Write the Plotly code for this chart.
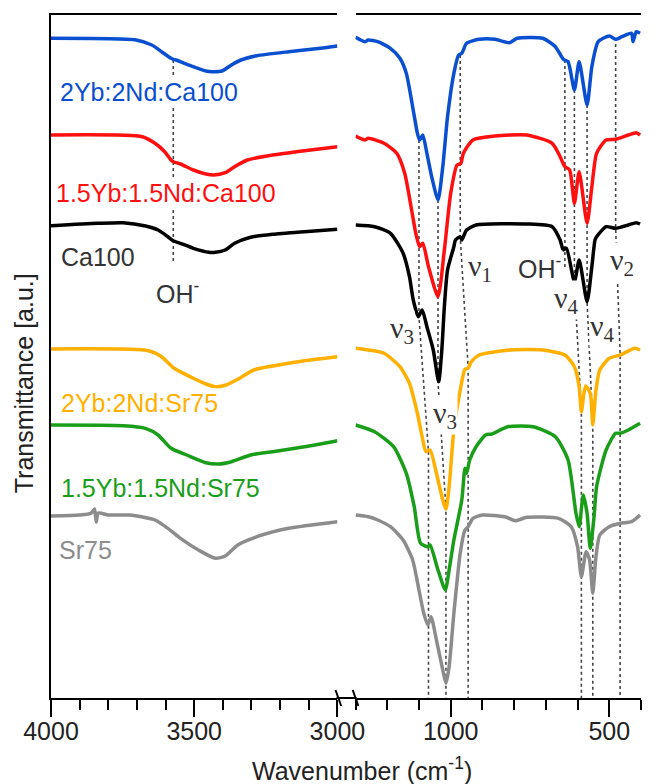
import plotly.graph_objects as go

# ---------------- data (wavenumber cm-1, transmittance a.u. with offsets) -------------
NAMES = ["2Yb:2Nd:Ca100", "1.5Yb:1.5Nd:Ca100", "Ca100",
         "2Yb:2Nd:Sr75", "1.5Yb:1.5Nd:Sr75", "Sr75"]
COLORS = ["#0a4fcf", "#ff1010", "#000000", "#ffb000", "#1a9e1a", "#8c8c8c"]
LABEL_COLORS = ["#0a4fcf", "#ff1010", "#333333", "#ffb000", "#1a9e1a", "#8c8c8c"]

# high-wavenumber region (4000-3000)
CA2_L_WN = [4000, 3703, 3648, 3614, 3581, 3573, 3564, 3503, 3459, 3437, 3403, 3370, 3337, 3281, 3170, 3059, 3000]
CA2_L_T = [659.7, 658, 653, 646.3, 639.7, 638.7, 638, 631.3, 627, 626.3, 627, 633, 638, 642.3, 646.3, 649.7, 652]
CA15_L_WN = [4000, 3681, 3637, 3603, 3581, 3573, 3548, 3503, 3459, 3431, 3392, 3359, 3314, 3226, 3115, 3000]
CA15_L_T = [563, 561.3, 554.7, 546.3, 538, 536.3, 534, 528, 524, 523, 525.3, 531.3, 538, 543, 547.3, 551.3]
CA_L_WN = [4000, 3837, 3748, 3670, 3626, 3592, 3573, 3548, 3503, 3448, 3426, 3392, 3359, 3303, 3226, 3115, 3000]
CA_L_T = [472.3, 474.7, 475.3, 472, 468, 461.3, 457.3, 454.7, 449.7, 445.7, 445.7, 448, 454.7, 460.7, 463.7, 466.3, 468.7]
SR2_L_WN = [4000, 3659, 3614, 3570, 3503, 3459, 3426, 3392, 3348, 3292, 3226, 3115, 3000]
SR2_L_T = [349, 347.3, 341.3, 329.7, 319.7, 314, 311.3, 312.7, 318.7, 328, 332, 337.3, 341.3]
SR15_L_WN = [4000, 3748, 3670, 3626, 3581, 3526, 3459, 3414, 3370, 3303, 3226, 3115, 3000]
SR15_L_T = [273, 272.3, 269.7, 263, 249.7, 243, 235.3, 234, 236.3, 243, 246.3, 251.3, 257.3]
SR_L_WN = [4000, 3900, 3860, 3848, 3842, 3835, 3800, 3726, 3680, 3637, 3592, 3548, 3481, 3426, 3392, 3348, 3281, 3170, 3000]
SR_L_T = [182, 183, 184.7, 189, 176, 185, 183, 183, 181, 178, 169.7, 159.7, 147.3, 139.7, 142, 153, 161.3, 169.7, 176.3]

# fingerprint region (1300-400)
CA2_R_WN = [1300, 1270, 1260, 1230, 1190, 1160, 1140, 1120, 1105, 1098, 1088, 1075, 1060, 1040, 1025, 1010, 990, 975, 965, 950,
            910, 860, 815, 790, 710, 670, 645, 630, 610, 595, 570, 555, 535, 500, 480, 460, 430, 425, 415, 403]
CA2_R_T = [660.7, 656.3, 658, 656.3, 649.7, 639.7, 624.7, 591.3, 564.7, 558, 563, 544.7, 521.3, 498, 531.3, 581.3, 624.7, 643, 644.7, 654.7,
           658.7, 658.7, 655.3, 659.7, 659.7, 651.3, 638.7, 636.3, 608, 636.3, 593, 631.3, 656.3, 662, 658.7, 661.3, 664.7, 656.3, 666.3, 664.7]
CA15_R_WN = [1300, 1270, 1260, 1210, 1170, 1145, 1125, 1110, 1098, 1088, 1070, 1040, 1020, 1000, 980, 968, 960, 930, 860, 760,
             680, 655, 640, 625, 610, 595, 570, 555, 540, 510, 480, 440, 415, 403]
CA15_R_T = [562, 558, 559.7, 554.7, 544.7, 524.7, 491.3, 464.7, 451.3, 454.7, 431.3, 401.3, 448, 504.7, 533, 534.7, 544.7, 558, 562, 563,
            554.7, 541.3, 531.3, 528, 494.7, 526.3, 474.7, 511.3, 544.7, 558, 558.7, 563, 565.3, 563]
CA_R_WN = [1300, 1240, 1190, 1150, 1130, 1118, 1102, 1090, 1075, 1055, 1038, 1028, 1020, 1010, 990, 985, 970, 965, 950, 920,
           760, 680, 655, 645, 635, 610, 595, 570, 555, 545, 540, 510, 480, 440, 415, 403]
CA_R_T = [473, 471.3, 464.7, 444.7, 421.3, 398, 381.3, 388, 371.3, 348, 316.3, 348, 391.3, 428, 451.3, 458, 461.3, 458, 468, 473,
          474, 471.3, 458, 448, 449.7, 416.3, 438, 396.3, 431.3, 458, 461.3, 471.3, 469.7, 473, 475.3, 474]
SR2_R_WN = [1300, 1260, 1210, 1160, 1130, 1105, 1090, 1078, 1065, 1045, 1025, 1015, 1005, 990, 970, 955, 945, 935, 910, 810,
            710, 640, 610, 595, 588, 575, 560, 552, 542, 530, 500, 465, 420, 403]
SR2_R_T = [349.7, 348, 344.7, 331.3, 314.7, 284.7, 261.3, 246.3, 248, 224.7, 198, 188.7, 211.3, 268, 308, 328.7, 329.7, 336.3, 343, 348,
           348, 343, 331.3, 311.3, 286.3, 312, 304.7, 273, 308, 328, 339.7, 343, 349.7, 348]
SR15_R_WN = [1300, 1240, 1180, 1140, 1115, 1095, 1072, 1065, 1040, 1017, 1005, 990, 965, 955, 950, 940, 920, 890, 870, 820,
             740, 670, 630, 605, 595, 582, 570, 560, 548, 540, 510, 480, 465, 440, 403]
SR15_R_T = [273, 266.3, 251.3, 224.7, 191.3, 154.7, 151.3, 153, 128, 108, 128, 158, 198, 229.7, 224.7, 238, 251.3, 263, 264, 271.3,
            271.3, 261.3, 238, 184.7, 171.3, 203, 184.7, 149.7, 181.3, 211.3, 248, 264.7, 264.7, 268, 274.7]
SR_R_WN = [1300, 1260, 1230, 1190, 1150, 1120, 1100, 1085, 1072, 1062, 1045, 1025, 1015, 1005, 990, 970, 955, 945, 930, 900,
           830, 795, 760, 660, 620, 600, 588, 573, 562, 552, 542, 530, 500, 465, 430, 403]
SR_R_T = [183, 181.3, 178, 171.3, 158, 138, 108, 84.7, 73, 81.3, 58, 28, 14.7, 31.3, 84.7, 144.7, 168, 171.3, 179.7, 183,
          181.3, 177.3, 180.7, 179.7, 171.3, 151.3, 121.3, 146.3, 138, 104.7, 141.3, 163, 171.3, 174.7, 176.3, 183]

LEFT_WN = [CA2_L_WN, CA15_L_WN, CA_L_WN, SR2_L_WN, SR15_L_WN, SR_L_WN]
LEFT_T = [CA2_L_T, CA15_L_T, CA_L_T, SR2_L_T, SR15_L_T, SR_L_T]
RIGHT_WN = [CA2_R_WN, CA15_R_WN, CA_R_WN, SR2_R_WN, SR15_R_WN, SR_R_WN]
RIGHT_T = [CA2_R_T, CA15_R_T, CA_R_T, SR2_R_T, SR15_R_T, SR_R_T]

# band guide lines: Ca-phase position, Sr-phase position, y top, y at Ca100, y at 2Yb:2Nd:Sr75
GUIDE_CA_WN = [1100, 1040, 970, 610, 570, 480]
GUIDE_SR_WN = [1070, 1015, 945, 588, 552, 466]
GUIDE_TOP = [558, 498, 643, 608, 593, 660]
GUIDE_CA_T = [381, 316, 461, 416, 396, 470]
GUIDE_SR_T = [246, 189, 330, 286, 273, 346]
OH_LEFT_WN, OH_RIGHT_WN = 3573, 640
OH_LEFT_Y = [638, 435]
OH_RIGHT_Y = [638, 428]

# sample labels (left panel): x wavenumber, y a.u.
LABEL_WN = [3973, 3987, 3970, 3970, 3970, 3977]
LABEL_Y = [606, 505, 441, 295, 210, 148]

# band labels (right panel)
BAND_TEXT = ["ν<sub>1</sub>", "OH<sup>-</sup>", "ν<sub>2</sub>", "ν<sub>4</sub>", "ν<sub>4</sub>", "ν<sub>3</sub>", "ν<sub>3</sub>"]
BAND_WN = [949, 790, 502, 676, 565, 1195, 1060]
BAND_Y = [430, 431, 436, 398, 370, 368, 283]

LEFT_TICKS = [4000, 3500, 3000]
RIGHT_TICKS = [1000, 500]

# ---------------- figure ----------------
W, H = 669, 784
L, R, T, B = 51, 0, 15, 86
PW, PH = W - L - R, H - T - B
FONT = "Liberation Sans, Arial, sans-serif"


def px_x(px):
    return (px - L) / PW


def px_y(py):
    return 1 - (py - T) / PH


fig = go.Figure()

dot = dict(color="#444444", width=1.6, dash="dot")

# guide lines (drawn first, beneath spectra)
gx, gy = [], []
for ca, sr, top, yc, ys in zip(GUIDE_CA_WN, GUIDE_SR_WN, GUIDE_TOP, GUIDE_CA_T, GUIDE_SR_T):
    gx += [ca, ca, sr, sr, None]
    gy += [top, yc, ys, 0, None]
gx += [OH_RIGHT_WN, OH_RIGHT_WN]
gy += OH_RIGHT_Y
fig.add_trace(go.Scatter(x=gx, y=gy, mode="lines", line=dot, xaxis="x2", yaxis="y",
                         showlegend=False, hoverinfo="skip"))
fig.add_trace(go.Scatter(x=[OH_LEFT_WN, OH_LEFT_WN], y=OH_LEFT_Y, mode="lines", line=dot,
                         xaxis="x", yaxis="y", showlegend=False, hoverinfo="skip"))

for name, c, xl, yl, xr, yr in zip(NAMES, COLORS, LEFT_WN, LEFT_T, RIGHT_WN, RIGHT_T):
    fig.add_trace(go.Scatter(x=xl, y=yl, mode="lines", name=name, xaxis="x", yaxis="y",
                             line=dict(color=c, width=3.5, shape="spline", smoothing=0.6),
                             showlegend=False))
    fig.add_trace(go.Scatter(x=xr, y=yr, mode="lines", name=name, xaxis="x2", yaxis="y",
                             line=dict(color=c, width=3.5, shape="spline", smoothing=0.6),
                             showlegend=False))

annotations = []
for name, c, xw, yv in zip(NAMES, LABEL_COLORS, LABEL_WN, LABEL_Y):
    annotations.append(dict(x=xw, y=yv, xref="x", yref="y", text=name, showarrow=False,
                            xanchor="left", yanchor="middle", bgcolor="white", borderpad=0,
                            font=dict(family=FONT, size=25, color=c)))
annotations.append(dict(x=3637, y=406, xref="x", yref="y", text="OH<sup>-</sup>", showarrow=False,
                        xanchor="left", yanchor="middle", bgcolor="white", borderpad=0,
                        font=dict(family=FONT, size=25, color="#333333")))
for txt, xw, yv in zip(BAND_TEXT, BAND_WN, BAND_Y):
    is_nu = txt.startswith("ν")
    annotations.append(dict(x=xw, y=yv, xref="x2", yref="y", text=txt, showarrow=False,
                            xanchor="left", yanchor="middle", bgcolor="white", borderpad=0,
                            font=dict(family="Liberation Serif, serif" if is_nu else FONT,
                                      size=30 if is_nu else 25, color="#333333")))
# axis titles
annotations.append(dict(x=px_x(377), y=px_y(769), xref="paper", yref="paper",
                        text="Wavenumber (cm<sup>-1</sup>)", showarrow=False,
                        xanchor="center", yanchor="middle",
                        font=dict(family=FONT, size=25, color="#222222")))
annotations.append(dict(x=px_x(23), y=px_y(383), xref="paper", yref="paper",
                        text="Transmittance [a.u.]", showarrow=False, textangle=-90,
                        xanchor="center", yanchor="middle",
                        font=dict(family=FONT, size=25, color="#222222")))

shapes = [
    # axis bridge across the break
    dict(type="line", xref="paper", yref="paper", x0=px_x(350), x1=px_x(371),
         y0=0, y1=0, line=dict(color="black", width=2)),
    # break marks
    dict(type="line", xref="paper", yref="paper", x0=px_x(349), x1=px_x(355),
         y0=px_y(690), y1=px_y(706), line=dict(color="black", width=2)),
    dict(type="line", xref="paper", yref="paper", x0=px_x(367), x1=px_x(373),
         y0=px_y(690), y1=px_y(706), line=dict(color="black", width=2)),
]

axis_common = dict(showline=True, linecolor="black", linewidth=2, mirror=True,
                   ticks="outside", ticklen=17, tickwidth=2, tickcolor="black",
                   showgrid=False, zeroline=False,
                   tickfont=dict(family=FONT, size=25, color="#222222"),
                   ticklabelstandoff=-7,
                   minor=dict(ticks="outside", ticklen=10, tickwidth=2, tickcolor="black",
                              dtick=100, tick0=0, showgrid=False))

fig.update_layout(
    width=W, height=H, autosize=False, margin=dict(l=L, r=R, t=T, b=B, pad=0),
    paper_bgcolor="white", plot_bgcolor="white", showlegend=False,
    xaxis=dict(domain=[0, px_x(351)], range=[4000, 3000], tickmode="array",
               tickvals=LEFT_TICKS, anchor="y", **axis_common),
    xaxis2=dict(domain=[px_x(370), 1], range=[1300, 400], tickmode="array",
                tickvals=RIGHT_TICKS, anchor="y", **axis_common),
    yaxis=dict(domain=[0, 1], range=[0, PH], showticklabels=False, ticks="",
               showline=True, linecolor="black", linewidth=2, showgrid=False,
               zeroline=False, anchor="x"),
    annotations=annotations, shapes=shapes,
)

fig.write_html(
    "out.html",
    config={"responsive": False, "displayModeBar": False},
    post_script="document.body.style.margin='0';document.body.style.overflow='hidden';",
)
